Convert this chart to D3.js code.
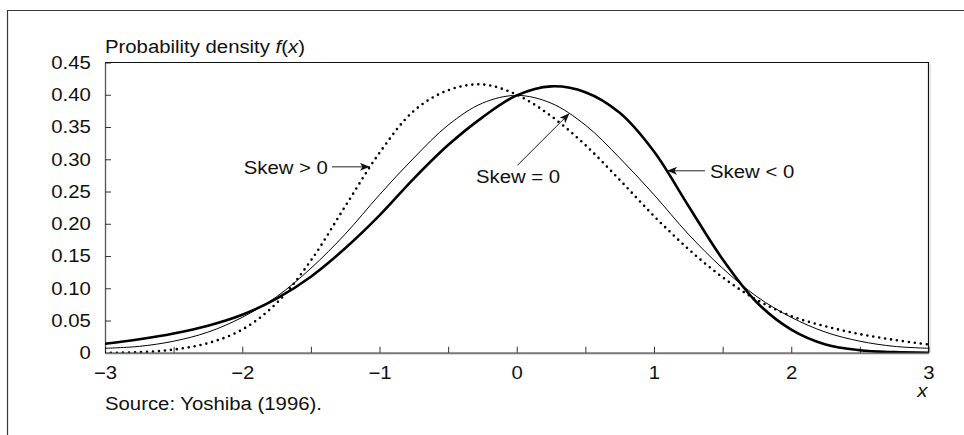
<!DOCTYPE html>
<html>
<head>
<meta charset="utf-8">
<script src="https://cdn.jsdelivr.net/npm/d3@7"></script>
<style>
  html, body { margin: 0; padding: 0; background: #fff; }
  svg { display: block; font-family: "Liberation Sans", Arial, sans-serif; }
</style>
</head>
<body>
<svg id="chart" width="964" height="435"></svg>
<script>
// x grid of the density curves
const xValues = [-3, -2.75, -2.5, -2.25, -2, -1.75, -1.5, -1.25, -1, -0.75, -0.5, -0.25,
                 0, 0.25, 0.5, 0.75, 1, 1.25, 1.5, 1.75, 2, 2.25, 2.5, 2.75, 3];

// Symmetric density (skew = 0)
const skewZero = [0.007, 0.010, 0.018, 0.032, 0.055, 0.087, 0.131, 0.184, 0.245, 0.302, 0.353, 0.387,
                  0.399, 0.387, 0.353, 0.302, 0.245, 0.184, 0.131, 0.087, 0.055, 0.032, 0.018, 0.010, 0.007];

// Negatively skewed density (skew < 0)
const skewNeg = [0.014, 0.021, 0.030, 0.042, 0.059, 0.084, 0.118, 0.162, 0.213, 0.270, 0.322, 0.365,
                 0.399, 0.413, 0.404, 0.372, 0.312, 0.228, 0.145, 0.078, 0.036, 0.013, 0.004, 0.001, 0.000];

// Positively skewed density (skew > 0)
const skewPos = [0.000, 0.001, 0.005, 0.015, 0.036, 0.077, 0.143, 0.227, 0.310, 0.375, 0.407, 0.416,
                 0.400, 0.367, 0.322, 0.268, 0.212, 0.161, 0.117, 0.082, 0.057, 0.041, 0.029, 0.020, 0.013];

const xTickValues = [-3, -2.5, -2, -1.5, -1, -0.5, 0, 0.5, 1, 1.5, 2, 2.5, 3];
const yTickValues = [0, 0.05, 0.10, 0.15, 0.20, 0.25, 0.30, 0.35, 0.40, 0.45];

const titleText = "Probability density ";
const sourceText = "Source: Yoshiba (1996).";

const labels = [
  { text: "Skew > 0", series: "pos", tipX: -1.07 },
  { text: "Skew = 0", series: "zero", tipX: 0.384 },
  { text: "Skew < 0", series: "neg", tipX: 1.095 }
];

const svg = d3.select("#chart");
const plot = { left: 105, right: 928.5, top: 62.5, bottom: 352.8 };

const x = d3.scaleLinear().domain([-3, 3]).range([plot.left, plot.right]);
const y = d3.scaleLinear().domain([0, 0.45]).range([plot.bottom, plot.top]);

// typeface: a wide-set sans, drawn as Liberation Sans stretched horizontally
const fontSize = 18;
const stretch = 1.13;
const textColor = "#111";

function placeText(sel, px, py) {
  return sel.attr("x", 0).attr("y", 0)
    .attr("transform", `translate(${px},${py}) scale(${stretch},1)`)
    .attr("font-size", fontSize).attr("fill", textColor);
}

// outer frame (top and left edges)
svg.append("path")
  .attr("d", `M7.5,435 V10.5 H964`)
  .attr("fill", "none").attr("stroke", "#3a3a3a").attr("stroke-width", 1.2);

// clip for the curves
svg.append("clipPath").attr("id", "plotClip")
  .append("rect").attr("x", plot.left).attr("y", plot.top - 2)
  .attr("width", plot.right - plot.left).attr("height", plot.bottom - plot.top + 2);

// Y axis with inward ticks
const yPad = 12.6;
const yAxis = d3.axisLeft(y)
  .tickValues(yTickValues)
  .tickSizeInner(-6).tickSizeOuter(0).tickPadding(yPad)
  .tickFormat(d => d === 0 ? "0" : d3.format(".2f")(d));
const gy = svg.append("g").attr("transform", `translate(${plot.left},0)`).call(yAxis);
gy.select(".domain").attr("stroke", "#555").attr("stroke-width", 1.3);
gy.selectAll(".tick line").attr("stroke", "#333").attr("stroke-width", 1);
gy.selectAll(".tick text")
  .attr("font-size", fontSize).attr("fill", textColor)
  .attr("font-family", "Liberation Sans, Arial, sans-serif")
  .attr("transform", `scale(${stretch},1)`);

// X axis with upward ticks every 0.5, labels on integers
const xAxis = d3.axisBottom(x)
  .tickValues(xTickValues)
  .tickSizeInner(-6).tickSizeOuter(0).tickPadding(13)
  .tickFormat(d => Number.isInteger(d) ? d3.format("d")(d) : "");
const gx = svg.append("g").attr("transform", `translate(0,${plot.bottom})`).call(xAxis);
gx.select(".domain").attr("stroke", "#777").attr("stroke-width", 2);
gx.selectAll(".tick line").attr("stroke", "#333").attr("stroke-width", 1);
gx.selectAll(".tick text")
  .attr("font-size", fontSize).attr("fill", textColor)
  .attr("font-family", "Liberation Sans, Arial, sans-serif")
  .attr("transform", `scale(${stretch},1)`);

// top and right edges of the plot box
svg.append("path")
  .attr("d", `M${plot.left},${plot.top} H${plot.right} V${plot.bottom}`)
  .attr("fill", "none").attr("stroke", "#111").attr("stroke-width", 1.2);
svg.append("line")
  .attr("x1", plot.right + 2).attr("x2", plot.right + 2)
  .attr("y1", plot.top + 2).attr("y2", plot.bottom)
  .attr("stroke", "#e4e4e4").attr("stroke-width", 1.2);

// curves
const line = d3.line()
  .x(d => x(d[0])).y(d => y(d[1]))
  .curve(d3.curveCatmullRom.alpha(0.5));

const series = {
  zero: { values: skewZero, width: 1, dash: null, cap: "butt" },
  neg:  { values: skewNeg, width: 2.6, dash: null, cap: "butt" },
  pos:  { values: skewPos, width: 2.6, dash: "0 6", cap: "round" }
};

const curveG = svg.append("g").attr("clip-path", "url(#plotClip)");
const paths = {};
for (const key of ["pos", "zero", "neg"]) {
  const s = series[key];
  paths[key] = curveG.append("path")
    .datum(xValues.map((v, i) => [v, s.values[i]]))
    .attr("d", line)
    .attr("fill", "none")
    .attr("stroke", "#000")
    .attr("stroke-width", s.width)
    .attr("stroke-linecap", s.cap)
    .attr("stroke-linejoin", "round")
    .attr("stroke-dasharray", s.dash);
}

// find the point on a drawn curve at a given x
function pointAtX(pathNode, px) {
  const total = pathNode.getTotalLength();
  let lo = 0, hi = total;
  for (let i = 0; i < 40; i++) {
    const mid = (lo + hi) / 2;
    if (pathNode.getPointAtLength(mid).x < px) lo = mid; else hi = mid;
  }
  return pathNode.getPointAtLength((lo + hi) / 2);
}

// arrowhead
svg.append("defs").append("marker")
  .attr("id", "arrowHead")
  .attr("viewBox", "0 0 10 8")
  .attr("refX", 10).attr("refY", 4)
  .attr("markerWidth", 10).attr("markerHeight", 8)
  .attr("markerUnits", "userSpaceOnUse")
  .attr("orient", "auto")
  .append("path").attr("d", "M0,0 L10,4 L0,8 L2.5,4 Z").attr("fill", "#111");

const annG = svg.append("g");
for (const lab of labels) {
  const tip = pointAtX(paths[lab.series].node(), x(lab.tipX));
  let tail, tx, ty, anchor;
  if (lab.series === "pos") {
    tail = [tip.x - 38, tip.y]; tx = tail[0] - 4; ty = tip.y + 7.5; anchor = "end";
  } else if (lab.series === "neg") {
    tail = [tip.x + 38, tip.y]; tx = tail[0] + 5; ty = tip.y + 7.5; anchor = "start";
  } else {
    tail = [tip.x - 52, tip.y + 52]; tx = tip.x - 93.5; ty = tip.y + 70; anchor = "start";
  }
  annG.append("line")
    .attr("x1", tail[0]).attr("y1", tail[1])
    .attr("x2", tip.x).attr("y2", tip.y)
    .attr("stroke", "#222").attr("stroke-width", 1)
    .attr("marker-end", "url(#arrowHead)");
  placeText(annG.append("text"), tx, ty)
    .attr("text-anchor", anchor)
    .text(lab.text);
}

// y-axis title
const title = placeText(svg.append("text"), plot.left, 53);
title.append("tspan").text(titleText);
title.append("tspan").attr("font-style", "italic").text("f");
title.append("tspan").text("(");
title.append("tspan").attr("font-style", "italic").text("x");
title.append("tspan").text(")");

// x-axis title
placeText(svg.append("text"), plot.right - 1, 396.5)
  .attr("text-anchor", "end")
  .attr("font-style", "italic")
  .text("x");

// source note
placeText(svg.append("text"), plot.left, 409.5)
  .text(sourceText);
</script>
</body>
</html>
